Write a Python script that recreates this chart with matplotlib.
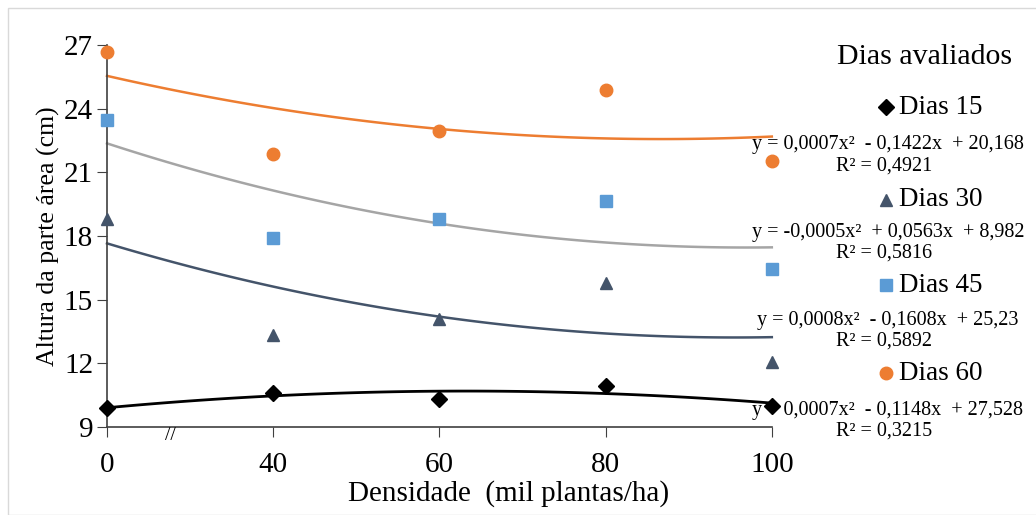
import numpy as np
import matplotlib
matplotlib.use("Agg")
import matplotlib.pyplot as plt
from matplotlib.lines import Line2D
from matplotlib.patches import Rectangle

plt.rcParams['font.family'] = ['Liberation Serif', 'DejaVu Serif']

# data
densidade = ['0', '40', '60', '80', '100']
dias15 = [9.9, 10.6, 10.3, 10.95, 10.0]
dias30 = [18.8, 13.35, 14.1, 15.8, 12.05]
dias45 = [23.45, 17.9, 18.8, 19.65, 16.45]
dias60 = [26.65, 21.85, 22.95, 24.9, 21.55]

eq15 = 'y = 0,0007x²  - 0,1422x  + 20,168'
r15 = 'R² = 0,4921'
eq30 = 'y = -0,0005x²  + 0,0563x  + 8,982'
r30 = 'R² = 0,5816'
eq45 = 'y = 0,0008x²  - 0,1608x  + 25,23'
r45 = 'R² = 0,5892'
eq60 = 'y = 0,0007x²  - 0,1148x  + 27,528'
r60 = 'R² = 0,3215'

series = [
    ('Dias 15', dias15, 'D', 'black', 'black', eq15, r15),
    ('Dias 30', dias30, '^', '#44546A', '#44546A', eq30, r30),
    ('Dias 45', dias45, 's', '#5B9BD5', '#A5A5A5', eq45, r45),
    ('Dias 60', dias60, 'o', '#ED7D31', '#ED7D31', eq60, r60),
]

fig = plt.figure(figsize=(10.36, 5.15), dpi=100)
ax = fig.add_axes([0.1033, 0.171, 0.6417, 0.7416])

x = np.arange(len(densidade))
xs = np.linspace(0, len(densidade) - 1, 100)
for name, vals, mk, col, lcol, eq, r2 in series:
    coef = np.polyfit(x, vals, 2)
    ax.plot(xs, np.polyval(coef, xs), color=lcol, lw=2 if col == 'black' else 1.8,
            zorder=2, clip_on=False)
    ax.plot(x, vals, linestyle='none', marker=mk, color=col,
            markersize=8 if mk == 'D' else 9, zorder=3, clip_on=False)

ax.set_xlim(0, 4)
ax.set_ylim(9, 27)
ax.set_yticks([9, 12, 15, 18, 21, 24, 27])
ax.set_xticks(x)
ax.set_xticklabels(densidade)
ax.tick_params(labelsize=21, length=7, color='#404040')
ax.tick_params(axis='x', pad=11)
ax.tick_params(axis='y', pad=3)
for s in ['top', 'right']:
    ax.spines[s].set_visible(False)
for s in ['left', 'bottom']:
    ax.spines[s].set_color('#404040')
    ax.spines[s].set_linewidth(1.2)

ax.set_ylabel('Altura da parte área (cm)', fontsize=18.5, labelpad=3)
ax.set_xlabel('Densidade  (mil plantas/ha)', fontsize=21, va='center')
ax.xaxis.set_label_coords(0.604, -0.175)
ax.text(0.38, 8.6, '//', fontsize=14, ha='center', va='center', clip_on=False)

# legend area with equations
W, H = 1036.0, 515.0
fig.text(925 / W, 1 - 57 / H, 'Dias avaliados', fontsize=21.5, ha='center', va='center')
legend_y = [107, 200, 285, 373]
eq_y = [145, 232, 320, 410]
for (name, vals, mk, col, lcol, eq, r2), ly, ey in zip(series, legend_y, eq_y):
    fig.add_artist(Line2D([886 / W], [1 - ly / H], marker=mk, color=col,
                          markersize=8 if mk == 'D' else 9, linestyle='none'))
    fig.text(899 / W, 1 - ly / H, name, fontsize=19.5, ha='left', va='center')
    fig.text(888 / W, 1 - ey / H, eq, fontsize=14.5, ha='center', va='center')
    fig.text(884 / W, 1 - (ey + 21) / H, r2, fontsize=14.5, ha='center', va='center')

fig.add_artist(Rectangle((8 / W, 0), 1, 1 - 8 / H, transform=fig.transFigure,
                         fill=False, edgecolor='#D9D9D9', lw=1))

fig.savefig('out.png', dpi=100)
